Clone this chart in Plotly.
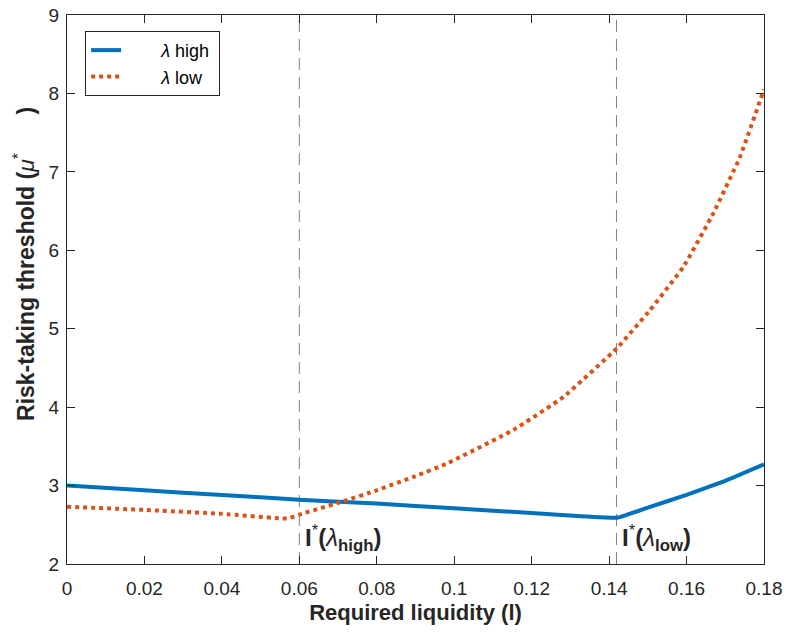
import plotly.graph_objects as go

# Data
l_high = [0.0, 0.02, 0.04, 0.06, 0.08, 0.10, 0.12, 0.142, 0.15, 0.16, 0.17, 0.18]
mu_high = [3.00, 2.94, 2.88, 2.82, 2.77, 2.71, 2.65, 2.59, 2.72, 2.88, 3.06, 3.27]

l_low = [0.0, 0.02, 0.04, 0.057, 0.06, 0.0714, 0.08, 0.09, 0.0981, 0.1153, 0.1282,
         0.142, 0.1506, 0.1592, 0.1669, 0.1738, 0.18]
mu_low = [2.73, 2.69, 2.64, 2.58, 2.63, 2.80, 2.94, 3.12, 3.28, 3.71, 4.13,
          4.75, 5.24, 5.79, 6.47, 7.19, 8.05]

thresholds = [0.06, 0.1419]
threshold_labels = ["<b>I</b><sup>*</sup><b>(</b><i>λ</i><sub><b>high</b></sub><b>)</b>",
                    "<b>I</b><sup>*</sup><b>(</b><i>λ</i><sub><b>low</b></sub><b>)</b>"]

x_ticks = [0, 0.02, 0.04, 0.06, 0.08, 0.1, 0.12, 0.14, 0.16, 0.18]
x_ticktext = ["0", "0.02", "0.04", "0.06", "0.08", "0.1", "0.12", "0.14", "0.16", "0.18"]
y_ticks = [2, 3, 4, 5, 6, 7, 8, 9]

BLUE = "#0072BD"
RED = "#D95319"
AX = "#262626"
FONT = "Liberation Sans, Arial, Helvetica, sans-serif"
PAD = "&nbsp;" * 7

fig = go.Figure()
fig.add_trace(go.Scatter(x=l_high, y=mu_high, mode="lines", name=PAD + "<i>λ</i> high&nbsp;",
                         line=dict(color=BLUE, width=4, shape="spline", smoothing=0.3)))
fig.add_trace(go.Scatter(x=l_low, y=mu_low, mode="lines", name=PAD + "<i>λ</i> low&nbsp;",
                         line=dict(color=RED, width=4, dash="4px,4px", shape="spline", smoothing=0.3)))

for xv in thresholds:
    fig.add_shape(type="line", x0=xv, x1=xv, y0=0, y1=1, xref="x", yref="paper",
                  line=dict(color="#808080", width=1, dash="12px,7px"), layer="below")

for xv, txt in zip(thresholds, threshold_labels):
    fig.add_annotation(x=xv, y=2.0, xref="x", yref="y", text=txt, showarrow=False,
                       xanchor="left", yanchor="bottom", xshift=4, yshift=7,
                       font=dict(family=FONT, size=24, color=AX))

fig.update_layout(
    width=786, height=632,
    margin=dict(l=67, r=22, t=15, b=68, autoexpand=False),
    paper_bgcolor="white", plot_bgcolor="white",
    font=dict(family=FONT, color=AX, size=19),
    showlegend=True,
    legend=dict(x=0.026, y=0.971, xanchor="left", yanchor="top",
                bgcolor="white", bordercolor=AX, borderwidth=1, tracegroupgap=0,
                font=dict(size=18, color="black")),
)
fig.update_xaxes(range=[0, 0.18], tickvals=x_ticks, ticktext=x_ticktext,
                 ticks="inside", ticklen=8, tickcolor=AX, showline=True, linecolor=AX,
                 linewidth=1, mirror="ticks", showgrid=False, zeroline=False,
                 tickfont=dict(size=19, color=AX), automargin=False,
                 ticklabeloverflow="allow", ticklabelstandoff=7,
                 title=dict(text="<b>Required liquidity (l)</b>", font=dict(size=22, color=AX), standoff=6))
fig.update_yaxes(range=[2, 9], tickvals=y_ticks,
                 ticks="inside", ticklen=8, tickcolor=AX, showline=True, linecolor=AX,
                 linewidth=1, mirror="ticks", showgrid=False, zeroline=False,
                 tickfont=dict(size=19, color=AX), automargin=False,
                 ticklabeloverflow="allow", ticklabelstandoff=3,
                 title=dict(text="&nbsp;" * 8 + "<b>Risk-taking threshold (</b><i>μ</i><sup>*</sup>"
                                 + "&nbsp;" * 6 + "<b>)</b>",
                            font=dict(size=23, color=AX), standoff=7))

fig.write_html("out.html", config={"displayModeBar": False},
               post_script="document.body.style.margin='0';")
